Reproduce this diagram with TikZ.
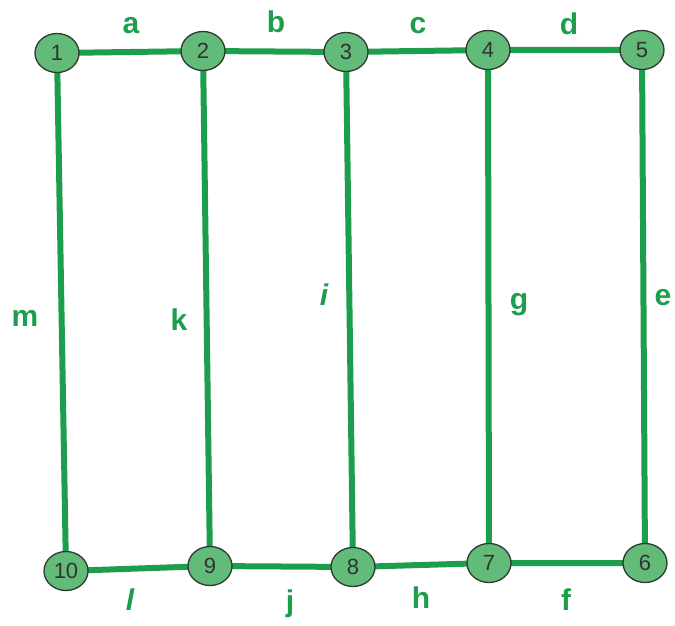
\documentclass[tikz,border=0pt]{standalone}
\usepackage{fontspec}
\setmainfont{Liberation Sans}
\usetikzlibrary{shapes.geometric,backgrounds}
\definecolor{edgegreen}{HTML}{1C9E4C}
\definecolor{nodefill}{HTML}{62BB78}
\definecolor{nodeline}{HTML}{2E3A30}
\definecolor{numgray}{HTML}{333333}
\begin{document}
\begin{tikzpicture}[x=1pt,y=-1pt,
  vtx/.style={ellipse,draw=nodeline,line width=1.3pt,fill=nodefill,minimum width=44pt,minimum height=39pt,inner sep=0pt,font=\fontsize{22}{22}\selectfont,text=numgray},
  edge/.style={draw=edgegreen,line width=6pt},
  lbl/.style={font=\fontsize{30}{30}\selectfont\bfseries,text=edgegreen,inner sep=0pt}]
\useasboundingbox (0,0) rectangle (675,626);
\node[vtx] (n1) at (57,53) {1};
\node[vtx] (n2) at (203,51) {2};
\node[vtx] (n3) at (346,52) {3};
\node[vtx] (n4) at (488,50) {4};
\node[vtx] (n5) at (642,50) {5};
\node[vtx] (n10) at (66,571) {10};
\node[vtx] (n9) at (210,566) {9};
\node[vtx] (n8) at (353,567) {8};
\node[vtx] (n7) at (489,563) {7};
\node[vtx] (n6) at (645,563) {6};
\begin{pgfonlayer}{background}
\draw[edge] (n1.center) -- (n2.center) -- (n3.center) -- (n4.center) -- (n5.center);
\draw[edge] (n10.center) -- (n9.center) -- (n8.center) -- (n7.center) -- (n6.center);
\draw[edge] (n1.center) -- (n10.center);
\draw[edge] (n2.center) -- (n9.center);
\draw[edge] (n3.center) -- (n8.center);
\draw[edge] (n4.center) -- (n7.center);
\draw[edge] (n5.center) -- (n6.center);
\end{pgfonlayer}
\node[lbl] (la) at (131,26) {a};
\node[lbl] (lb) at (276,22) {b};
\node[lbl] (lc) at (418,26) {c};
\node[lbl] (ld) at (569,24) {d};
\node[lbl] (le) at (663,298) {e};
\node[lbl] (lg) at (519,305) {g};
\node[lbl] (li) at (324,295) {\itshape i};
\node[lbl] (lk) at (179,320) {k};
\node[lbl] (lm) at (25,318) {m};
\node[lbl] (ll) at (130,600) {\itshape l};
\node[lbl] (lj) at (290,604) {j};
\node[lbl] (lh) at (421,598) {h};
\node[lbl] (lf) at (566,600) {f};
\end{tikzpicture}
\end{document}
